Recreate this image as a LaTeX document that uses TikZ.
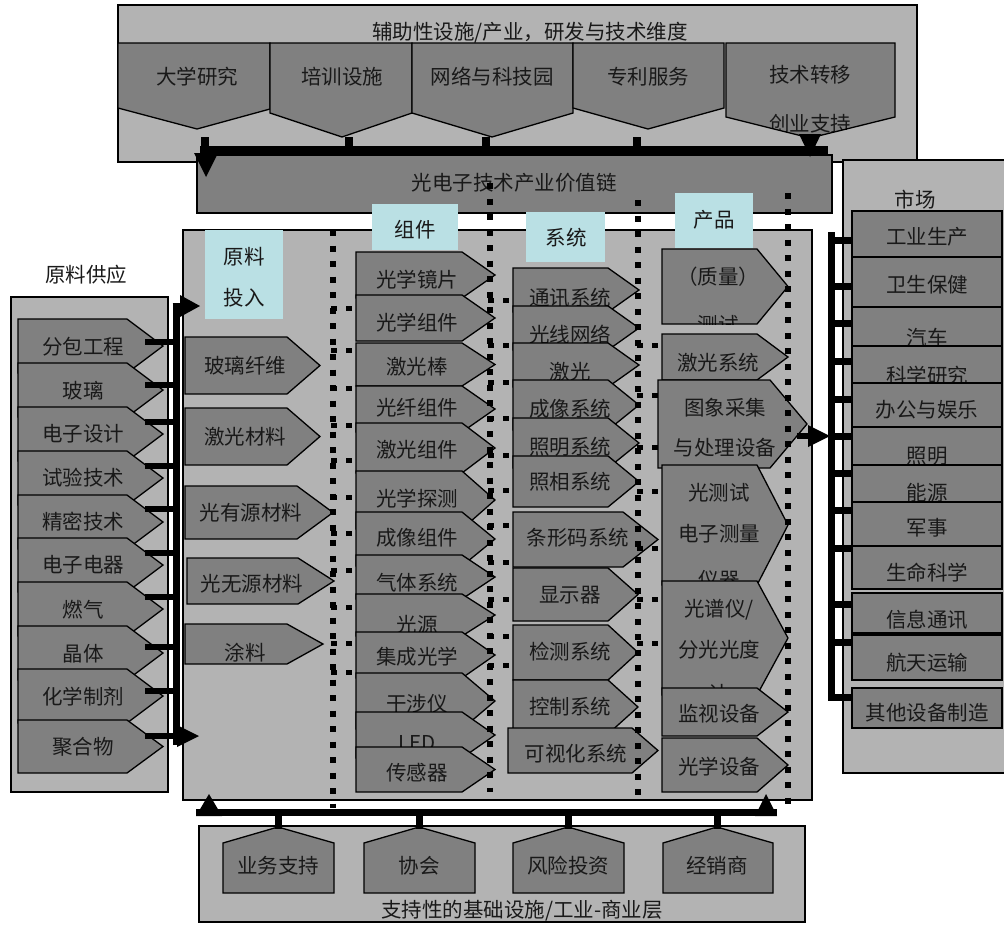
\documentclass[tikz,border=0pt]{standalone}
\usepackage{fontspec}
\setmainfont{Noto Sans CJK SC}
\usetikzlibrary{arrows.meta}
\definecolor{panel}{RGB}{179,179,179}
\definecolor{shpc}{RGB}{128,128,128}
\definecolor{lab}{RGB}{186,224,228}
\definecolor{txt}{RGB}{25,25,25}
\tikzset{
 edge/.style={draw=black,line width=1.3pt,line join=miter},
 pan/.style={fill=panel,draw=black,line width=1.3pt},
 lbl/.style={text=txt,inner sep=0pt,font=\fontsize{20.5}{24}\selectfont},
 bar/.style={line width=7pt},
 stub/.style={line width=6.5pt},
 dotv/.style={line width=6pt,dash pattern=on 6pt off 9.5pt},
 doth/.style={line width=5pt,dash pattern=on 6pt off 9pt},
}
\newcommand\SHP[2]{\fill[shpc] #1; \begin{scope}\clip #1; #2\end{scope}\draw[edge] #1;}
\newcommand\RA[6]{\SHP{(#1,#4)--(#2,#4)--(#3,{(#4+#5)/2})--(#2,#5)--(#1,#5)--cycle}{#6}}
\newcommand\MK[5]{\SHP{(852,#1) rectangle (1002,#2)}{\node[lbl] (#3) at (927,#4) {#5};}}
\begin{document}
\begin{tikzpicture}[x=1pt,y=-1pt]
\useasboundingbox (0,0) rectangle (1004,924);

% ---------- top panel ----------
\draw[pan] (118,5) rectangle (917,162);
\node[lbl] (toptitle) at (530,33) {辅助性设施/产业，研发与技术维度};
\SHP{(118,43)--(270,43)--(270,109)--(197,129)--(118,108)--cycle}{\node[lbl] (u1) at (197,77) {大学研究};}
\SHP{(270,43)--(412,43)--(412,113)--(342,137)--(270,113)--cycle}{\node[lbl] (u2) at (342,77) {培训设施};}
\SHP{(412,43)--(573,43)--(573,113)--(492,137)--(412,113)--cycle}{\node[lbl] (u3) at (492,77) {网络与科技园};}
\SHP{(573,43)--(724,43)--(724,108)--(648,129)--(573,108)--cycle}{\node[lbl] (u4) at (648,77) {专利服务};}
\SHP{(726,43)--(895,43)--(895,117)--(810,138)--(726,117)--cycle}{\node[lbl] (u5) at (810,75) {技术转移}; \node[lbl] (u5b) at (810,124) {创业支持};}
\coordinate (tbL) at (200,150);
\coordinate (tbR) at (828,150);
\foreach \x in {205,349,486,637} \draw[line width=8pt] (\x,137) -- (\x,150);
\draw[line width=8pt] (tbL) -- (tbR);

% ---------- market panel ----------
\draw[pan] (843,160) rectangle (1012,773);
\node[lbl] (mkt) at (915,200) {市场};

% ---------- value chain ----------
\draw[edge,fill=shpc] (197,155) rectangle (832,213);
\node[lbl] (vc) at (514,183) {光电子技术产业价值链};
\fill (194,153) -- (218,153) -- (206,177) -- cycle;
\fill (799,134) -- (821,134) -- (810,157) -- cycle;

% ---------- left panel ----------
\draw[pan] (11,297) rectangle (168,792);
\node[lbl] (raw) at (86,275) {原料供应};
\RA{18}{127}{163}{319}{373}{\node[lbl] (l1) at (83,347) {分包工程};}
\RA{18}{127}{163}{363}{417}{\node[lbl] (l2) at (83,391) {玻璃};}
\RA{18}{127}{163}{407}{461}{\node[lbl] (l3) at (83,434) {电子设计};}
\RA{18}{127}{163}{451}{505}{\node[lbl] (l4) at (83,478) {试验技术};}
\RA{18}{127}{163}{495}{549}{\node[lbl] (l5) at (83,522) {精密技术};}
\RA{18}{127}{163}{538}{592}{\node[lbl] (l6) at (83,565) {电子电器};}
\RA{18}{127}{163}{582}{636}{\node[lbl] (l7) at (83,610) {燃气};}
\RA{18}{127}{163}{626}{680}{\node[lbl] (l8) at (83,654) {晶体};}
\RA{18}{127}{163}{669}{723}{\node[lbl] (l9) at (83,697) {化学制剂};}
\RA{18}{127}{163}{720}{773}{\node[lbl] (l10) at (83,747) {聚合物};}

% ---------- main area ----------
\draw[pan] (183,230) rectangle (812,800);
\fill[lab] (205,230) rectangle (283,319);
\node[lbl] (h1a) at (244,257) {原料};
\node[lbl] (h1b) at (244,298) {投入};
\fill[lab] (372,204) rectangle (458,250);
\node[lbl] (h2) at (415,230) {组件};
\fill[lab] (526,212) rectangle (605,262);
\node[lbl] (h3) at (566,238) {系统};
\fill[lab] (675,193) rectangle (753,248);
\node[lbl] (h4) at (714,220) {产品};

% materials
\RA{185}{287}{320}{337}{394}{\node[lbl] (m1) at (245,366) {玻璃纤维};}
\RA{185}{287}{320}{408}{465}{\node[lbl] (m2) at (245,437) {激光材料};}
\RA{185}{297}{333}{486}{539}{\node[lbl] (m3) at (251,513) {光有源材料};}
\RA{187}{298}{334}{558}{604}{\node[lbl] (m4) at (252,584) {光无源材料};}
\RA{185}{287}{323}{624}{664}{\node[lbl] (m5) at (245,653) {涂料};}

% components
\RA{356}{462}{495}{252}{298}{\node[lbl] (c1) at (417,280) {光学镜片};}
\RA{356}{462}{495}{295}{341}{\node[lbl] (c2) at (417,323) {光学组件};}
\RA{356}{462}{495}{343}{386}{\node[lbl] (c3) at (417,367) {激光棒};}
\RA{356}{462}{495}{386}{432}{\node[lbl] (c4) at (417,408) {光纤组件};}
\RA{356}{462}{495}{423}{473}{\node[lbl] (c5) at (417,450) {激光组件};}
\RA{356}{462}{495}{471}{529}{\node[lbl] (c6) at (417,499) {光学探测};}
\RA{356}{462}{495}{512}{566}{\node[lbl] (c7) at (417,538) {成像组件};}
\RA{356}{462}{495}{555}{599}{\node[lbl] (c8) at (417,583) {气体系统};}
\RA{356}{462}{495}{594}{636}{\node[lbl] (c9) at (417,625) {光源};}
\RA{356}{462}{495}{632}{678}{\node[lbl] (c10) at (417,657) {集成光学};}
\RA{356}{462}{495}{673}{729}{\node[lbl] (c11) at (417,704) {干涉仪};}
\RA{356}{462}{495}{712}{758}{\node[lbl] (c12) at (417,743) {LED};}
\RA{356}{462}{495}{747}{792}{\node[lbl] (c13) at (417,773) {传感器};}

% systems
\RA{513}{608}{639}{268}{312}{\node[lbl] (s1) at (570,298) {通讯系统};}
\RA{513}{608}{639}{306}{350}{\node[lbl] (s2) at (570,335) {光线网络};}
\RA{513}{608}{639}{343}{387}{\node[lbl] (s3) at (570,372) {激光};}
\RA{513}{608}{639}{380}{430}{\node[lbl] (s4) at (570,409) {成像系统};}
\RA{513}{608}{639}{418}{468}{\node[lbl] (s5) at (570,447) {照明系统};}
\RA{513}{608}{639}{456}{507}{\node[lbl] (s6) at (570,482) {照相系统};}
\RA{513}{623}{658}{512}{567}{\node[lbl] (s7) at (578,538) {条形码系统};}
\RA{513}{608}{638}{568}{621}{\node[lbl] (s8) at (570,595) {显示器};}
\RA{513}{608}{638}{625}{680}{\node[lbl] (s9) at (570,652) {检测系统};}
\RA{513}{608}{638}{680}{734}{\node[lbl] (s10) at (570,707) {控制系统};}
\RA{508}{632}{658}{728}{773}{\node[lbl] (s11) at (576,754) {可视化系统};}

% products
\RA{662}{757}{788}{249}{324}{\node[lbl] (p1) at (718,277) {（质量）}; \node[lbl] (p1b) at (718,325) {测试};}
\RA{662}{757}{788}{334}{380}{\node[lbl] (p2) at (718,363) {激光系统};}
\RA{658}{770}{807}{380}{468}{\node[lbl] (p3) at (725,408) {图象采集}; \node[lbl] (p3b) at (725,448) {与处理设备};}
\RA{662}{757}{788}{465}{585}{\node[lbl] (p4) at (719,493) {光测试}; \node[lbl] (p4b) at (719,534) {电子测量}; \node[lbl] (p4c) at (719,580) {仪器};}
\RA{662}{757}{788}{581}{695}{\node[lbl] (p5) at (719,610) {光谱仪/}; \node[lbl] (p5b) at (719,650) {分光光度}; \node[lbl] (p5c) at (719,694) {计};}
\RA{662}{757}{788}{688}{736}{\node[lbl] (p6) at (719,714) {监视设备};}
\RA{662}{757}{788}{738}{792}{\node[lbl] (p7) at (719,767) {光学设备};}

% dotted separators
\draw[dotv] (333,230) -- (333,808);
\draw[dotv] (490,183) -- (490,792);
\draw[dotv] (638,200) -- (638,800);
\draw[dotv] (788,193) -- (788,810);
\foreach \y in {308,350,388,425,460,497,533,570,607,643,672} \draw[doth] (331,\y) -- (356,\y);
\foreach \y in {300,345,382,418,455,490,525,562,599,636,665} \draw[doth] (488,\y) -- (513,\y);
\foreach \y in {345,395,447,491,548,599,643} \draw[doth] (637,\y) -- (662,\y);

% left bar and stubs
\coordinate (lbT) at (176,302.5);
\coordinate (lbB) at (176,745);
\draw[bar] (lbB) -- (lbT);
\draw[bar] (172.5,306) -- (182,306);
\fill (180,295) -- (200,306) -- (180,317) -- cycle;
\foreach \y in {342,385,422,466,509,553,597,647,691} \draw[stub] (145,\y) -- (176,\y);
\draw[stub] (145,736) -- (180,736);
\fill (177,725) -- (199,736) -- (177,747) -- cycle;

% market rows
\MK{211}{257}{k1}{237}{工业生产}
\MK{257}{307}{k2}{285}{卫生保健}
\MK{307}{346}{k3}{338}{汽车}
\MK{346}{383}{k4}{376}{科学研究}
\MK{383}{427}{k5}{410}{办公与娱乐}
\MK{427}{465}{k6}{456}{照明}
\MK{465}{502}{k7}{493}{能源}
\MK{502}{546}{k8}{528}{军事}
\MK{546}{589}{k9}{573}{生命科学}
\MK{593}{633}{k10}{620}{信息通讯}
\MK{635}{680}{k11}{663}{航天运输}
\MK{688}{728}{k12}{713}{其他设备制造}
\coordinate (mbT) at (831.5,232);
\coordinate (mbB) at (831.5,700);
\draw[bar] (mbT) -- (mbB);
\foreach \y in {240,286,323,361,399,436,473,510,548,604,642,697} \draw[bar] (828,\y) -- (852,\y);
\draw[stub] (797,436) -- (810,436);
\fill (808,425) -- (830,436) -- (808,447) -- cycle;

% ---------- bottom panel ----------
\draw[pan] (199,826) rectangle (805,922);
\node[lbl] (foot) at (522,911) {支持性的基础设施/工业-商业层};
\SHP{(223,893)--(223,843)--(278,827)--(334,843)--(334,893)--cycle}{\node[lbl] (b1) at (278,866) {业务支持};}
\SHP{(364,893)--(364,843)--(419,827)--(475,843)--(475,893)--cycle}{\node[lbl] (b2) at (419,866) {协会};}
\SHP{(513,893)--(513,843)--(568,827)--(624,843)--(624,893)--cycle}{\node[lbl] (b3) at (568,866) {风险投资};}
\SHP{(663,893)--(663,843)--(717,827)--(773,843)--(773,893)--cycle}{\node[lbl] (b4) at (717,866) {经销商};}
\coordinate (bbL) at (196,812.5);
\coordinate (bbR) at (777,812.5);
\draw[bar] (bbL) -- (bbR);
\foreach \x in {278,419,568,717} \draw[bar] (\x,812) -- (\x,829);
\fill (196,816) -- (209,794) -- (222,816) -- cycle;
\fill (755,816) -- (766,794) -- (777,816) -- cycle;
\end{tikzpicture}
\end{document}
